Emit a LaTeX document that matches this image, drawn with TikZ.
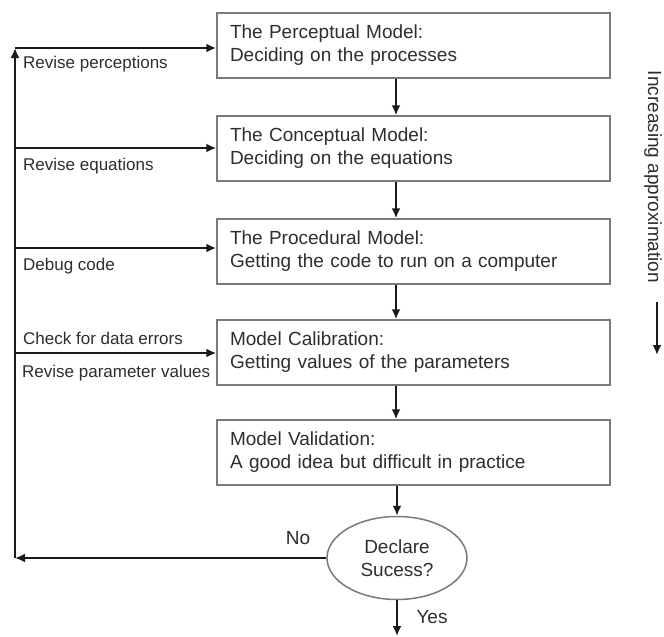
\documentclass[tikz,border=0pt]{standalone}
\usepackage{fontspec}
\setmainfont{Liberation Sans}
\usetikzlibrary{arrows.meta,shapes.geometric}
\definecolor{boxgray}{HTML}{7A7A7A}
\definecolor{txt}{HTML}{2E2E2E}
\definecolor{arr}{HTML}{1A1A1A}
\tikzset{
  modelbox/.style={draw=boxgray,line width=1.5pt,rectangle,minimum height=65pt,
    inner xsep=13pt,inner ysep=0pt,text width=367pt,align=left,text=txt,
    font=\fontsize{19}{23}\selectfont},
  decide/.style={draw=boxgray,line width=1.5pt,ellipse,minimum width=140pt,
    minimum height=83pt,inner sep=0pt,align=center,text=txt,
    font=\fontsize{19}{23}\selectfont},
  lbl/.style={anchor=west,inner sep=0pt,text=txt,font=\fontsize{17}{20}\selectfont},
  flow/.style={draw=arr,line width=2.3pt,-{Latex[length=10pt,width=9pt]}},
}
\begin{document}
\begin{tikzpicture}[x=1pt,y=-1pt]
\useasboundingbox[fill=white] (0,0) rectangle (664,637);
% boxes
\node[modelbox] (b1) at (413.5,45.5) {The Perceptual Model:\\Deciding on the processes};
\node[modelbox] (b2) at (413.5,148.5) {The Conceptual Model:\\Deciding on the equations};
\node[modelbox] (b3) at (413.5,251.5) {The Procedural Model:\\Getting the code to run on a computer};
\node[modelbox] (b4) at (413.5,352.5) {Model Calibration:\\Getting values of the parameters};
\node[modelbox] (b5) at (413.5,452.5) {Model Validation:\\A good idea but difficult in practice};
\node[decide] (d) at (397,558) {Declare\\Sucess?};
% down arrows
\coordinate (ax) at (396,0);
\draw[flow] (b1.south -| ax) -- (b2.north -| ax);
\draw[flow] (b2.south -| ax) -- (b3.north -| ax);
\draw[flow] (b3.south -| ax) -- (b4.north -| ax);
\draw[flow] (b4.south -| ax) -- (b5.north -| ax);
\draw[flow] (b5.south -| d) -- (d.north);
\coordinate (yesend) at (397,636);
\draw[flow] (d.south) -- (yesend);
\node[anchor=center,inner sep=0pt,text=txt,font=\fontsize{19}{23}\selectfont] (yes) at (432,617) {Yes};
% feedback loop
\coordinate (corner) at (15,558);
\coordinate (L1) at (15,48);
\coordinate (L2) at (15,148);
\coordinate (L3) at (15,248);
\coordinate (L4) at (15,353);
\draw[flow] (d.west) -- (corner);
\draw[flow] (corner) -- (L1);
\draw[flow] (L1) -- (b1.west |- L1);
\draw[flow] (L2) -- (b2.west |- L2);
\draw[flow] (L3) -- (b3.west |- L3);
\draw[flow] (L4) -- (b4.west |- L4);
\node[anchor=center,inner sep=0pt,text=txt,font=\fontsize{19}{23}\selectfont] (no) at (298,538) {No};
% labels
\node[lbl] (l1) at (23,64) {Revise perceptions};
\node[lbl] (l2) at (23,166) {Revise equations};
\node[lbl] (l3) at (23,266) {Debug code};
\node[lbl] (l4) at (23,338) {Check for data errors};
\node[lbl] (l5) at (22,373) {Revise parameter values};
% increasing approximation
\node[rotate=-90,inner sep=0pt,text=txt,font=\fontsize{19}{23}\selectfont] (inc) at (653,177) {Increasing approximation};
\coordinate (a1) at (657,302);
\coordinate (a2) at (657,355);
\draw[flow] (a1) -- (a2);
\end{tikzpicture}
\end{document}
